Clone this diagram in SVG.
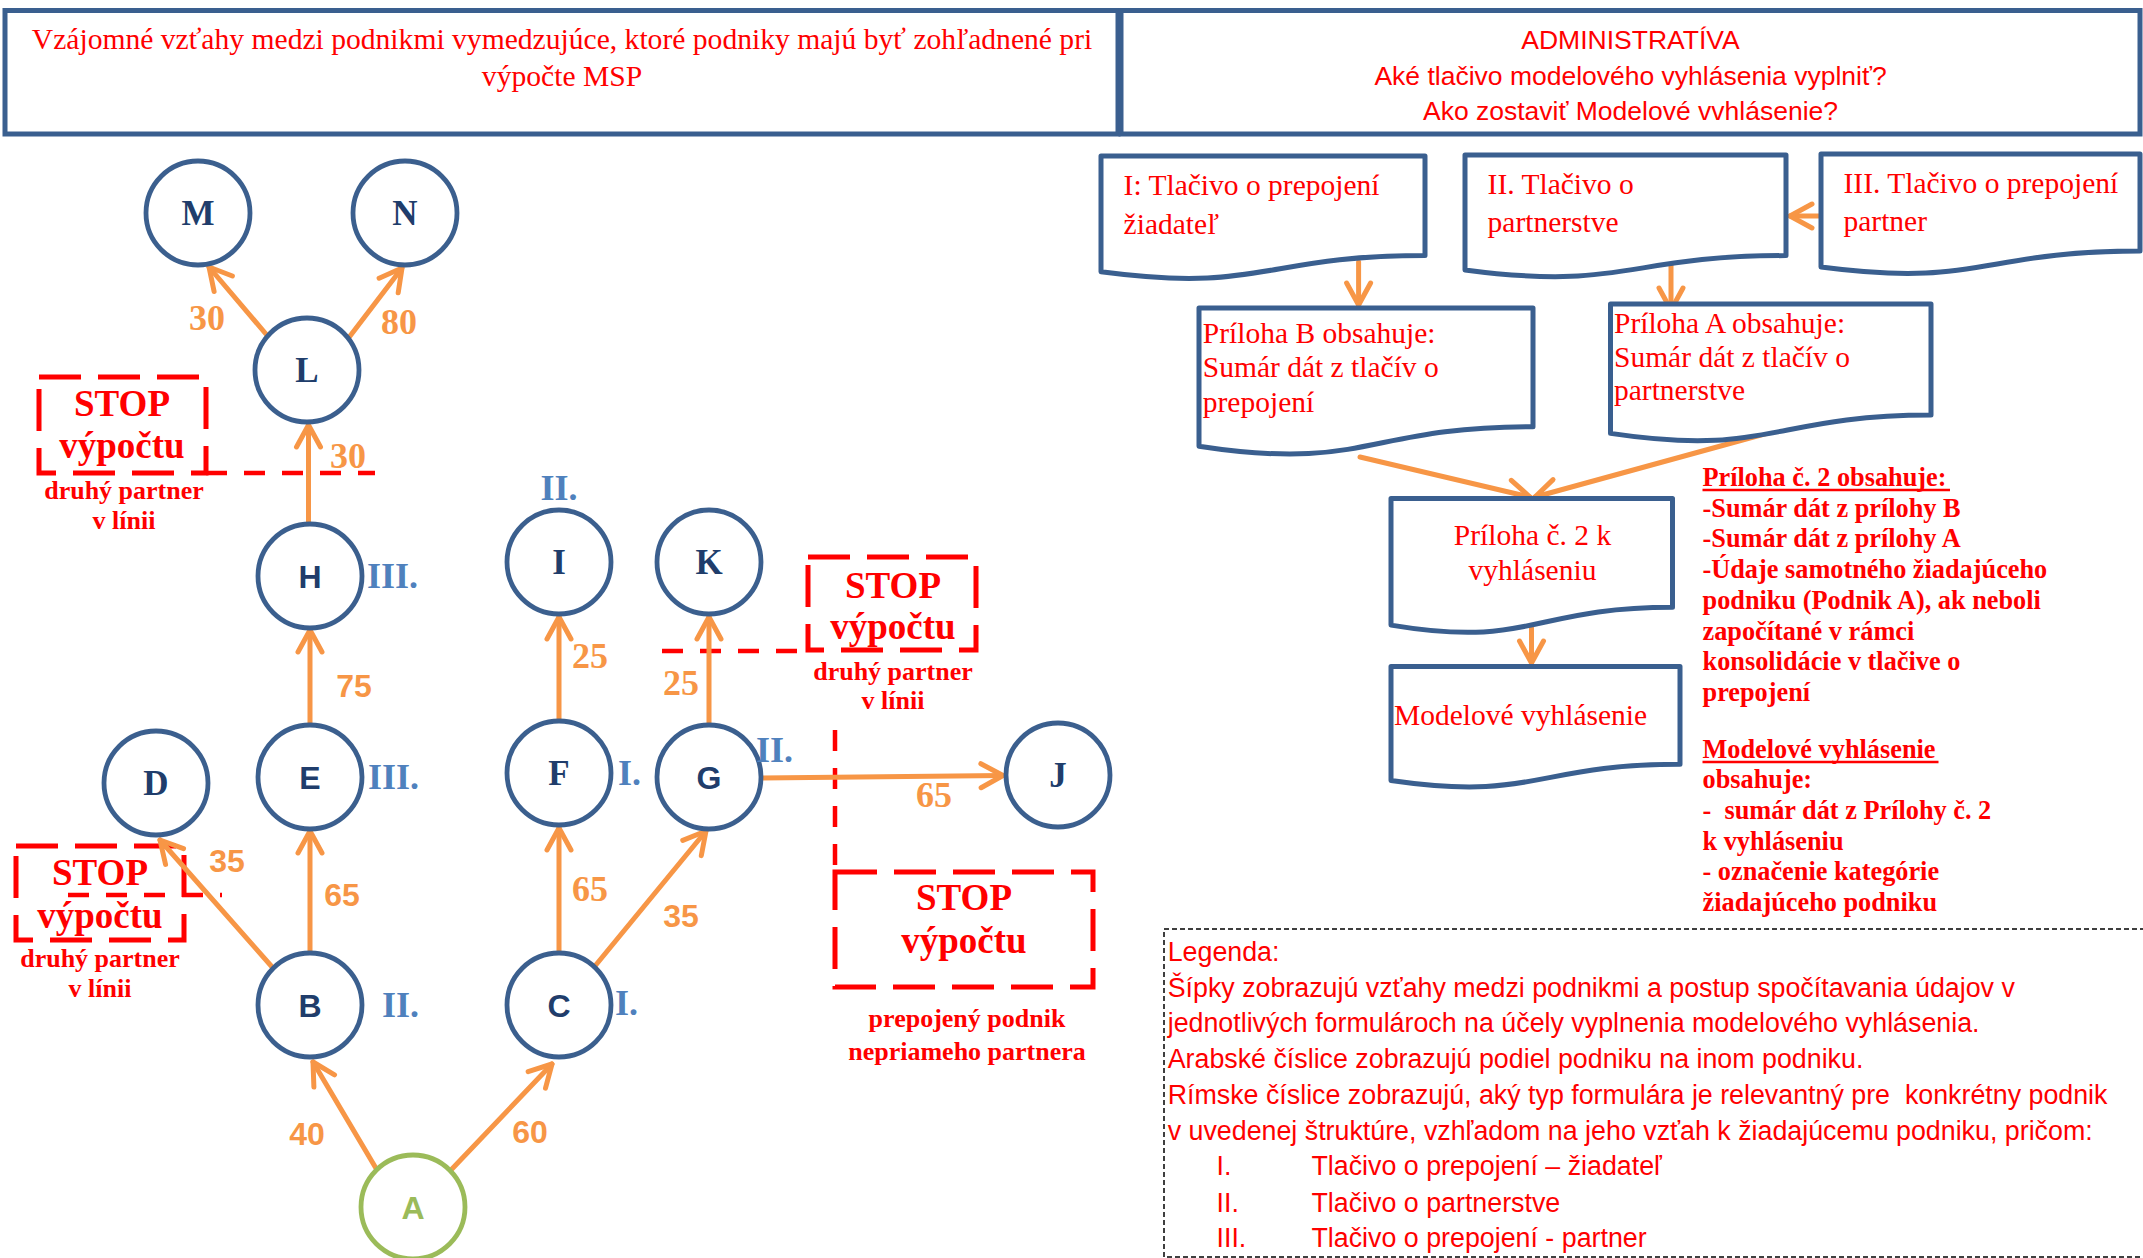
<svg xmlns="http://www.w3.org/2000/svg" width="2143" height="1258" viewBox="0 0 2143 1258">
<style>
.hdr{fill:#fff;stroke:#3A5F8F;stroke-width:5}
.ttl{font-family:"Liberation Serif","Times New Roman",serif;font-size:29.6px;fill:#FF0000;text-anchor:middle}
.ttl2{font-family:"Liberation Sans",Arial,sans-serif;font-size:26.5px;fill:#FF0000;text-anchor:middle}
.node circle{fill:#fff;stroke:#3B5F8E;stroke-width:4.8}
.node .ls{font-family:"Liberation Serif","Times New Roman",serif;font-weight:bold;font-size:35px;fill:#203D6B;text-anchor:middle}
.node .lx{font-family:"Liberation Sans",Arial,sans-serif;font-weight:bold;font-size:32px;fill:#203D6B;text-anchor:middle}
.roman{font-family:"Liberation Serif","Times New Roman",serif;font-weight:bold;font-size:36px;fill:#4F81BD}
.edge{stroke:#F79646;stroke-width:5;fill:none;marker-end:url(#arr);stroke-linecap:round}
.ps{font-family:"Liberation Serif","Times New Roman",serif;font-weight:bold;font-size:36px;fill:#F79646;text-anchor:middle}
.px{font-family:"Liberation Sans",Arial,sans-serif;font-weight:bold;font-size:32px;fill:#F79646;text-anchor:middle}
.sbox{fill:none;stroke:#FF0000;stroke-width:5;stroke-dasharray:42 17}
.sline{fill:none;stroke:#FF0000;stroke-width:4.5;stroke-dasharray:21 17}
.sbig{font-family:"Liberation Serif","Times New Roman",serif;font-weight:bold;font-size:37px;fill:#FF0000;text-anchor:middle}
.ssm{font-family:"Liberation Serif","Times New Roman",serif;font-weight:bold;font-size:26px;fill:#FF0000;text-anchor:middle}
.doc path{fill:#fff;stroke:#3A5F8F;stroke-width:5;stroke-linejoin:round}
.doc text{font-family:"Liberation Serif","Times New Roman",serif;font-size:29.5px;fill:#FF0000}
.note{font-family:"Liberation Serif","Times New Roman",serif;font-weight:bold;font-size:26.3px;fill:#FF0000}
.ul{stroke:#FF0000;stroke-width:2.5}
.leg{font-family:"Liberation Sans",Arial,sans-serif;font-size:26.8px;fill:#FF0000}
.legbox{fill:none;stroke:#000;stroke-width:1.5;stroke-dasharray:5 3}
</style>
<defs>
<marker id="arr" markerUnits="userSpaceOnUse" viewBox="-30 -16 34 32" refX="0" refY="0" markerWidth="34" markerHeight="32" orient="auto">
<path d="M-22,-12 L0,0 L-22,12" fill="none" stroke="#F79646" stroke-width="5" stroke-linecap="round" stroke-linejoin="round"/>
</marker>
</defs>
<rect width="2143" height="1258" fill="#fff"/>

<g id="header-left">
<rect class="hdr" x="5" y="10.5" width="1113" height="123.5"/>
<text class="ttl" x="562" y="49">Vzájomné vzťahy medzi podnikmi vymedzujúce, ktoré podniky majú byť zohľadnené pri</text>
<text class="ttl" x="562" y="86">výpočte MSP</text>
</g>
<g id="header-right">
<rect class="hdr" x="1121" y="10.5" width="1019" height="123.5"/>
<text class="ttl2" x="1630.5" y="49">ADMINISTRATÍVA</text>
<text class="ttl2" x="1630.5" y="85">Aké tlačivo modelového vyhlásenia vyplniť?</text>
<text class="ttl2" x="1630.5" y="120">Ako zostaviť Modelové vvhlásenie?</text>
</g>

<g id="stop-boxes">
<g id="stop1">
<rect class="sbox" x="39" y="377" width="167" height="96"/>
<line class="sline" x1="206" y1="473" x2="375" y2="473"/>
<text class="sbig" x="122" y="416">STOP</text>
<text class="sbig" x="122" y="458">výpočtu</text>
<text class="ssm" x="124" y="499">druhý partner</text>
<text class="ssm" x="124" y="529">v línii</text>
</g>
<g id="stop2">
<rect class="sbox" x="16" y="846" width="168" height="94"/>
<line class="sline" x1="68" y1="895" x2="222" y2="895"/>
<text class="sbig" x="100" y="884.5">STOP</text>
<text class="sbig" x="100" y="928">výpočtu</text>
<text class="ssm" x="100" y="967">druhý partner</text>
<text class="ssm" x="100" y="997">v línii</text>
</g>
<g id="stop3">
<rect class="sbox" x="808" y="557" width="168" height="93"/>
<line class="sline" x1="662" y1="651" x2="808" y2="651"/>
<text class="sbig" x="893" y="597.5">STOP</text>
<text class="sbig" x="893" y="639">výpočtu</text>
<text class="ssm" x="893" y="679.5">druhý partner</text>
<text class="ssm" x="893" y="709">v línii</text>
</g>
<g id="stop4">
<line class="sline" x1="835" y1="730" x2="835" y2="872"/>
<rect class="sbox" x="835" y="872" width="258" height="115"/>
<text class="sbig" x="964" y="909.5">STOP</text>
<text class="sbig" x="964" y="953">výpočtu</text>
<text class="ssm" x="967" y="1027">prepojený podnik</text>
<text class="ssm" x="967" y="1060">nepriameho partnera</text>
</g>
</g>

<g id="connectors">
<line class="edge" x1="271" y1="340" x2="209" y2="267"/>
<line class="edge" x1="347" y1="340" x2="402" y2="268"/>
<line class="edge" x1="308.5" y1="523" x2="308.5" y2="425"/>
<line class="edge" x1="310" y1="725" x2="310" y2="630"/>
<line class="edge" x1="310" y1="953" x2="310" y2="831"/>
<line class="edge" x1="273" y1="968" x2="160" y2="840"/>
<line class="edge" x1="377" y1="1170" x2="313" y2="1062"/>
<line class="edge" x1="451" y1="1170" x2="552" y2="1064"/>
<line class="edge" x1="559" y1="952" x2="559" y2="828"/>
<line class="edge" x1="559" y1="720" x2="559" y2="617"/>
<line class="edge" x1="595" y1="966" x2="706" y2="831"/>
<line class="edge" x1="709" y1="725" x2="709" y2="617"/>
<line class="edge" x1="761" y1="778" x2="1003" y2="775.5"/>
<line class="edge" x1="1821" y1="216" x2="1790" y2="216"/>
<line class="edge" x1="1358.6" y1="262" x2="1358.6" y2="305"/>
<line class="edge" x1="1671" y1="257" x2="1671" y2="310"/>
<line class="edge" x1="1360" y1="457" x2="1530" y2="497"/>
<line class="edge" x1="1768" y1="433" x2="1535" y2="497"/>
<line class="edge" x1="1531.5" y1="628" x2="1531.5" y2="663"/>
<text class="ps" x="207" y="330">30</text>
<text class="ps" x="399" y="334">80</text>
<text class="ps" x="348" y="468">30</text>
<text class="px" x="354" y="697">75</text>
<text class="px" x="342" y="906">65</text>
<text class="px" x="227" y="872">35</text>
<text class="px" x="307" y="1145">40</text>
<text class="px" x="530" y="1143">60</text>
<text class="ps" x="590" y="668">25</text>
<text class="ps" x="681" y="695">25</text>
<text class="ps" x="590" y="901">65</text>
<text class="px" x="681" y="927">35</text>
<text class="ps" x="934" y="807">65</text>
</g>

<g id="node-M" class="node"><circle cx="198" cy="213" r="52"/><text class="ls" x="198" y="225">M</text></g>
<g id="node-N" class="node"><circle cx="405" cy="213" r="52"/><text class="ls" x="405" y="225">N</text></g>
<g id="node-L" class="node"><circle cx="307" cy="370" r="52"/><text class="ls" x="307" y="382">L</text></g>
<g id="node-H" class="node"><circle cx="310" cy="576" r="52"/><text class="lx" x="310" y="588">H</text><text class="roman" x="367" y="588">III.</text></g>
<g id="node-E" class="node"><circle cx="310" cy="777" r="52"/><text class="lx" x="310" y="789">E</text><text class="roman" x="368" y="789">III.</text></g>
<g id="node-D" class="node"><circle cx="156" cy="783" r="52"/><text class="ls" x="156" y="795">D</text></g>
<g id="node-B" class="node"><circle cx="310" cy="1005" r="52"/><text class="lx" x="310" y="1017">B</text><text class="roman" x="382" y="1017">II.</text></g>
<g id="node-A" class="node"><circle cx="413" cy="1207" r="52" style="stroke:#9BBB59"/><text class="lx" x="413" y="1219" style="fill:#9BBB59">A</text></g>
<g id="node-I" class="node"><circle cx="559" cy="562" r="52"/><text class="ls" x="559" y="574">I</text><text class="roman" x="559" y="500" text-anchor="middle">II.</text></g>
<g id="node-K" class="node"><circle cx="709" cy="562" r="52"/><text class="ls" x="709" y="574">K</text></g>
<g id="node-F" class="node"><circle cx="559" cy="773" r="52"/><text class="ls" x="559" y="785">F</text><text class="roman" x="618" y="785">I.</text></g>
<g id="node-G" class="node"><circle cx="709" cy="777" r="52"/><text class="lx" x="709" y="789">G</text><text class="roman" x="756" y="762">II.</text></g>
<g id="node-J" class="node"><circle cx="1058" cy="775" r="52"/><text class="ls" x="1058" y="787">J</text></g>
<g id="node-C" class="node"><circle cx="559" cy="1005" r="52"/><text class="lx" x="559" y="1017">C</text><text class="roman" x="615" y="1015">I.</text></g>

<g id="doc-I" class="doc">
<path d="M1101,156 H1425 V255.4 C1263,255.4 1263,293.3 1101,271.8 Z"/>
<text x="1123.6" y="195">I: Tlačivo o prepojení</text>
<text x="1123.6" y="233.5">žiadateľ</text>
</g>
<g id="doc-II" class="doc">
<path d="M1465,155 H1786 V255.6 C1625.5,255.6 1625.5,291.2 1465,269.9 Z"/>
<text x="1487.6" y="194">II. Tlačivo o</text>
<text x="1487.6" y="232">partnerstve</text>
</g>
<g id="doc-III" class="doc">
<path d="M1821,154 H2140 V251 C1980.5,251 1980.5,288 1821,267 Z"/>
<text x="1843.5" y="193">III. Tlačivo o prepojení</text>
<text x="1843.5" y="231">partner</text>
</g>
<g id="doc-prilohaB" class="doc">
<path d="M1199,308 H1533 V426.7 C1366,426.7 1366,471.9 1199,446.2 Z"/>
<text x="1202.8" y="343">Príloha B obsahuje:</text>
<text x="1202.8" y="377">Sumár dát z tlačív o</text>
<text x="1202.8" y="411.5">prepojení</text>
</g>
<g id="doc-prilohaA" class="doc">
<path d="M1610.5,304 H1931 V415.1 C1770.75,415.1 1770.75,457.4 1610.5,433.4 Z"/>
<text x="1614" y="333">Príloha A obsahuje:</text>
<text x="1614" y="366.5">Sumár dát z tlačív o</text>
<text x="1614" y="400">partnerstve</text>
</g>
<g id="doc-priloha2" class="doc">
<path d="M1391,498.5 H1672.5 V607.3 C1531.75,607.3 1531.75,648.7 1391,625.1 Z"/>
<text x="1532.5" y="545" text-anchor="middle">Príloha č. 2 k</text>
<text x="1532.5" y="579.5" text-anchor="middle">vyhláseniu</text>
</g>
<g id="doc-modelove" class="doc">
<path d="M1391,666.5 H1680 V764.3 C1535.5,764.3 1535.5,801.6 1391,780.5 Z"/>
<text x="1394" y="725">Modelové vyhlásenie</text>
</g>

<g id="notes">
<text class="note" x="1702.5" y="486">Príloha č. 2 obsahuje:</text>
<line class="ul" x1="1702.5" y1="490" x2="1950" y2="490"/>
<text class="note" x="1702.5" y="516.5">-Sumár dát z prílohy B</text>
<text class="note" x="1702.5" y="547">-Sumár dát z prílohy A</text>
<text class="note" x="1702.5" y="578">-Údaje samotného žiadajúceho</text>
<text class="note" x="1702.5" y="609">podniku (Podnik A), ak neboli</text>
<text class="note" x="1702.5" y="640">započítané v rámci</text>
<text class="note" x="1702.5" y="670">konsolidácie v tlačive o</text>
<text class="note" x="1702.5" y="701">prepojení</text>
<text class="note" x="1702.5" y="758">Modelové vyhlásenie</text>
<line class="ul" x1="1702.5" y1="762" x2="1938.5" y2="762"/>
<text class="note" x="1702.5" y="788">obsahuje:</text>
<text class="note" x="1702.5" y="818.5" xml:space="preserve">-  sumár dát z Prílohy č. 2</text>
<text class="note" x="1702.5" y="849.5">k vyhláseniu</text>
<text class="note" x="1702.5" y="880">- označenie kategórie</text>
<text class="note" x="1702.5" y="911">žiadajúceho podniku</text>
</g>

<g id="legend">
<rect class="legbox" x="1164" y="929" width="1000" height="328"/>
<text class="leg" x="1167.7" y="961">Legenda:</text>
<text class="leg" x="1167.7" y="997">Šípky zobrazujú vzťahy medzi podnikmi a postup spočítavania údajov v</text>
<text class="leg" x="1167.7" y="1032">jednotlivých formulároch na účely vyplnenia modelového vyhlásenia.</text>
<text class="leg" x="1167.7" y="1068">Arabské číslice zobrazujú podiel podniku na inom podniku.</text>
<text class="leg" x="1167.7" y="1103.5" xml:space="preserve">Rímske číslice zobrazujú, aký typ formulára je relevantný pre  konkrétny podnik</text>
<text class="leg" x="1167.7" y="1139.5">v uvedenej štruktúre, vzhľadom na jeho vzťah k žiadajúcemu podniku, pričom:</text>
<text class="leg" x="1216.5" y="1175">I.</text>
<text class="leg" x="1311.5" y="1175">Tlačivo o prepojení – žiadateľ</text>
<text class="leg" x="1216.5" y="1211.5">II.</text>
<text class="leg" x="1311.5" y="1211.5">Tlačivo o partnerstve</text>
<text class="leg" x="1216.5" y="1247">III.</text>
<text class="leg" x="1311.5" y="1247">Tlačivo o prepojení - partner</text>
</g>
</svg>
